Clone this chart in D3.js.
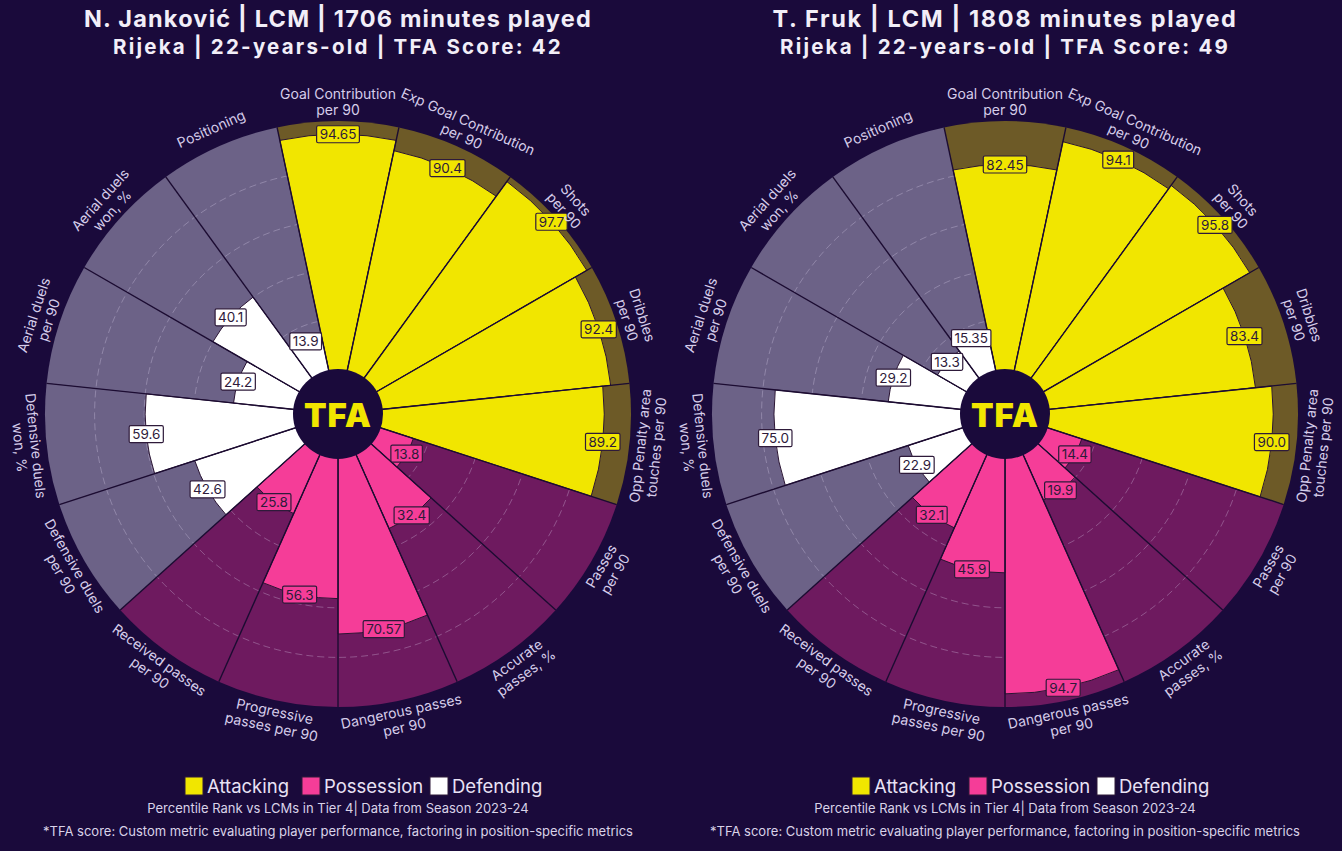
<!DOCTYPE html>
<html>
<head>
<meta charset="utf-8">
<script src="https://cdn.jsdelivr.net/npm/d3@7"></script>
<style>
  html, body { margin: 0; padding: 0; background: #1a0a3b; }
  svg { display: block; }
</style>
</head>
<body>
<svg id="chart" width="1342" height="851"></svg>
<script>
// ---------- DATA ----------
const params = [
  "Goal Contribution\nper 90",
  "Exp Goal Contribution\nper 90",
  "Shots\nper 90",
  "Dribbles\nper 90",
  "Opp Penalty area\ntouches per 90",
  "Passes\nper 90",
  "Accurate\npasses, %",
  "Dangerous passes\nper 90",
  "Progressive\npasses per 90",
  "Received passes\nper 90",
  "Defensive duels\nper 90",
  "Defensive duels\nwon, %",
  "Aerial duels\nper 90",
  "Aerial duels\nwon, %",
  "Positioning"
];
const paramCategories = [
  "Attacking","Attacking","Attacking","Attacking","Attacking",
  "Possession","Possession","Possession","Possession","Possession",
  "Defending","Defending","Defending","Defending","Defending"
];
const jankovicValues = [94.65, 90.4, 97.7, 92.4, 89.2, 13.8, 32.4, 70.57, 56.3, 25.8, 42.6, 59.6, 24.2, 40.1, 13.9];
const jankovicLabels = ["94.65","90.4","97.7","92.4","89.2","13.8","32.4","70.57","56.3","25.8","42.6","59.6","24.2","40.1","13.9"];
const frukValues = [82.45, 94.1, 95.8, 83.4, 90.0, 14.4, 19.9, 94.7, 45.9, 32.1, 22.9, 75.0, 29.2, 13.3, 15.35];
const frukLabels = ["82.45","94.1","95.8","83.4","90.0","14.4","19.9","94.7","45.9","32.1","22.9","75.0","29.2","13.3","15.35"];
const playerTitles = ["N. Janković | LCM | 1706 minutes played", "T. Fruk | LCM | 1808 minutes played"];
const playerSubtitles = ["Rijeka | 22-years-old | TFA Score: 42", "Rijeka | 22-years-old | TFA Score: 49"];
const gridTicks = [20, 40, 60, 80];
const legendCategories = ["Attacking", "Possession", "Defending"];
const footnote1 = "Percentile Rank vs LCMs in Tier 4| Data from Season 2023-24";
const footnote2 = "*TFA score: Custom metric evaluating player performance, factoring in position-specific metrics";

// ---------- STYLE ----------
const BG = "#1a0a3b";
const barColor = { Attacking: "#f1e600", Possession: "#f53d98", Defending: "#ffffff" };
const bgColor  = { Attacking: "#6d5a27", Possession: "#6e1a5f", Defending: "#6c6287" };
const labelColor = "#d6cdea";

const svg = d3.select("#chart");
svg.append("rect").attr("width", 1342).attr("height", 851).attr("fill", BG);

const r = d3.scaleLinear().domain([0, 100]).range([45, 293]);
const n = params.length;
const step = 2 * Math.PI / n;
const angleScale = d3.scaleLinear().domain([0, n]).range([0, 2 * Math.PI]);

function fitSpacing(sel, targetWidth) {
  const node = sel.node();
  const w = node.getComputedTextLength();
  const nch = node.textContent.length;
  if (w > 0 && nch > 1) sel.attr("letter-spacing", (targetWidth - w) / nch);
}

function drawPizza(cx, cy, values, labels, title, subtitle, titleW, subW) {
  const g = svg.append("g").attr("transform", `translate(${cx},${cy})`);
  const data = params.map((p, i) => ({
    name: p, cat: paramCategories[i], v: values[i], lab: labels[i],
    a0: angleScale(i) - step / 2, a1: angleScale(i) + step / 2, a: angleScale(i)
  }));

  g.selectAll("path.bgw").data(data).join("path")
    .attr("class", "bgw")
    .attr("d", d => d3.arc()({ innerRadius: 0, outerRadius: r(100), startAngle: d.a0, endAngle: d.a1 }))
    .attr("fill", d => bgColor[d.cat]);

  g.selectAll("circle.grid").data(gridTicks).join("circle")
    .attr("class", "grid")
    .attr("r", d => r(d))
    .attr("fill", "none")
    .attr("stroke", "rgba(230,220,245,0.3)")
    .attr("stroke-width", 1)
    .attr("stroke-dasharray", "7,4");

  g.selectAll("path.bar").data(data).join("path")
    .attr("class", "bar")
    .attr("d", d => d3.arc()({ innerRadius: 0, outerRadius: r(d.v), startAngle: d.a0, endAngle: d.a1 }))
    .attr("fill", d => barColor[d.cat])
    .attr("stroke", "#2a1433")
    .attr("stroke-width", 1);

  g.selectAll("line.div").data(data).join("line")
    .attr("class", "div")
    .attr("x1", 0).attr("y1", 0)
    .attr("x2", d => r(100) * Math.sin(d.a0))
    .attr("y2", d => -r(100) * Math.cos(d.a0))
    .attr("stroke", "#1c0c32")
    .attr("stroke-width", 1.4);

  g.append("circle").attr("r", r(0)).attr("fill", BG);
  g.append("text")
    .attr("x", 0).attr("y", 1)
    .attr("text-anchor", "middle").attr("dominant-baseline", "central")
    .attr("font-family", "Inter, 'DejaVu Sans', sans-serif")
    .attr("font-weight", 900).attr("font-size", 33)
    .attr("letter-spacing", "1")
    .attr("fill", barColor.Attacking)
    .text("TFA");

  const vl = g.selectAll("g.vl").data(data).join("g")
    .attr("class", "vl")
    .attr("transform", d => `translate(${r(d.v) * Math.sin(d.a)},${-r(d.v) * Math.cos(d.a)})`);
  vl.append("text")
    .attr("text-anchor", "middle").attr("dominant-baseline", "central")
    .attr("font-family", "Inter, 'DejaVu Sans', sans-serif")
    .attr("font-size", 13.5)
    .attr("fill", "#2e1a3a")
    .text(d => d.lab)
    .each(function(d) {
      const bb = this.getBBox();
      d3.select(this.parentNode).insert("rect", "text")
        .attr("x", bb.x - 3).attr("y", -8.5)
        .attr("width", bb.width + 6).attr("height", 17)
        .attr("rx", 1.5)
        .attr("fill", barColor[d.cat])
        .attr("stroke", "#2e1a3a").attr("stroke-width", 1.2);
    });

  const Rl = 312;
  const pl = g.selectAll("text.pl").data(data).join("text")
    .attr("class", "pl")
    .attr("transform", d => {
      const deg = d.a * 180 / Math.PI;
      const rot = (deg > 90 && deg < 270) ? deg - 180 : (deg >= 270 ? deg - 360 : deg);
      return `translate(${Rl * Math.sin(d.a)},${-Rl * Math.cos(d.a)}) rotate(${rot})`;
    })
    .attr("text-anchor", "middle")
    .attr("font-family", "Inter, 'DejaVu Sans', sans-serif")
    .attr("font-size", 14)
    .attr("fill", labelColor);
  pl.each(function(d) {
    const lines = d.name.split("\n");
    const lh = 16;
    const t = d3.select(this);
    lines.forEach((ln, k) => {
      t.append("tspan")
        .attr("x", 0)
        .attr("y", (k - (lines.length - 1) / 2) * lh + 5)
        .text(ln);
    });
  });

  const t1 = svg.append("text")
    .attr("x", cx).attr("y", 27)
    .attr("text-anchor", "middle")
    .attr("font-family", "Inter, Roboto, sans-serif")
    .attr("font-weight", 700).attr("font-size", 23.5)
    .attr("fill", "#f2eef8")
    .text(title);
  fitSpacing(t1, titleW);
  const t2 = svg.append("text")
    .attr("x", cx).attr("y", 54)
    .attr("text-anchor", "middle")
    .attr("font-family", "Inter, Roboto, sans-serif")
    .attr("font-weight", 700).attr("font-size", 20.5)
    .attr("fill", "#f2eef8")
    .text(subtitle);
  fitSpacing(t2, subW);

  const legendOffsets = [-153, -36, 92];
  const lg = svg.append("g").attr("transform", `translate(${cx},786)`);
  legendCategories.forEach((c, k) => {
    lg.append("rect")
      .attr("x", legendOffsets[k]).attr("y", -9)
      .attr("width", 18).attr("height", 18)
      .attr("fill", barColor[c])
      .attr("stroke", "#2e1a3a").attr("stroke-width", 1);
    lg.append("text")
      .attr("x", legendOffsets[k] + 22).attr("y", 0)
      .attr("dominant-baseline", "central")
      .attr("font-family", "Inter, 'DejaVu Sans', sans-serif")
      .attr("font-size", 18.5)
      .attr("fill", "#e9e2f5")
      .text(c);
  });

  svg.append("text")
    .attr("x", cx).attr("y", 813)
    .attr("text-anchor", "middle")
    .attr("font-family", "Inter, 'DejaVu Sans', sans-serif")
    .attr("font-size", 13)
    .attr("fill", "#d9d2e8")
    .text(footnote1);
  svg.append("text")
    .attr("x", cx).attr("y", 836)
    .attr("text-anchor", "middle")
    .attr("font-family", "Inter, 'DejaVu Sans', sans-serif")
    .attr("font-size", 13)
    .attr("fill", "#d9d2e8")
    .text(footnote2);
}

drawPizza(338, 414, jankovicValues, jankovicLabels, playerTitles[0], playerSubtitles[0], 508, 450);
drawPizza(1005, 414, frukValues, frukLabels, playerTitles[1], playerSubtitles[1], 465, 450);
</script>
</body>
</html>
